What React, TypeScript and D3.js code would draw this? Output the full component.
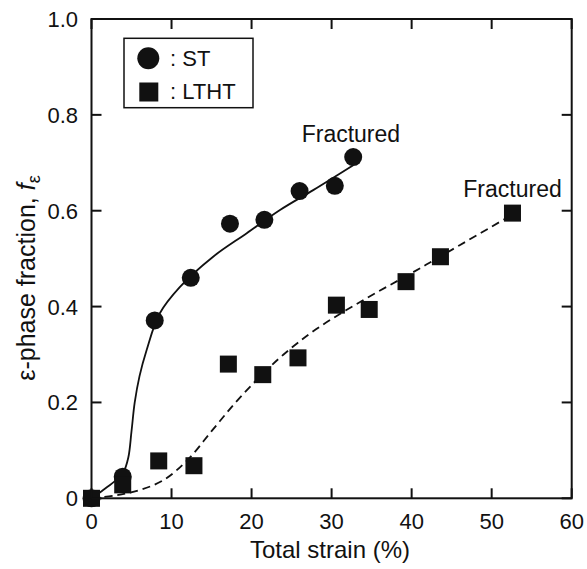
import React from "react";
import * as d3 from "d3";

const stStrain = [0, 3.9, 7.9, 12.4, 17.3, 21.6, 26.0, 30.4, 32.7];
const stFrac = [0, 0.045, 0.371, 0.46, 0.573, 0.581, 0.641, 0.652, 0.712];

const lthtStrain = [0, 3.9, 8.4, 12.8, 17.1, 21.4, 25.8, 30.6, 34.7, 39.3, 43.6, 52.6];
const lthtFrac = [0, 0.028, 0.078, 0.068, 0.28, 0.258, 0.293, 0.403, 0.394, 0.452, 0.504, 0.595];

const stFitX = [0, 1.5, 3, 4, 4.6, 5.0, 5.4, 6.0, 6.9, 8.5, 11, 15.2, 19.4, 23.6, 27.7, 32.7];
const stFitY = [0, 0.018, 0.037, 0.055, 0.085, 0.14, 0.2, 0.255, 0.31, 0.385, 0.44, 0.504, 0.553, 0.602, 0.643, 0.695];

const lthtFitX = [0, 3, 6, 9, 12, 15, 18, 21, 24, 28, 34, 40, 46, 52.6];
const lthtFitY = [0, 0.006, 0.017, 0.038, 0.08, 0.14, 0.2, 0.253, 0.3, 0.352, 0.414, 0.47, 0.528, 0.592];

const xTicks = [0, 10, 20, 30, 40, 50, 60];
const yTicks = [0, 0.2, 0.4, 0.6, 0.8, 1.0];
const yTickLabels = ["0", "0.2", "0.4", "0.6", "0.8", "1.0"];

const FONT = "'Liberation Sans', Arial, Helvetica, sans-serif";
const INK = "#111";

export default function App() {
  const W = 587, H = 569;
  const x = d3.scaleLinear().domain([0, 60]).range([91.5, 571.7]);
  const y = d3.scaleLinear().domain([0, 1]).range([498.3, 19]);
  const line = d3
    .line<[number, number]>()
    .x((d) => x(d[0]))
    .y((d) => y(d[1]))
    .curve(d3.curveCatmullRom.alpha(0.5));
  const stFit = stFitX.map((v, i) => [v, stFitY[i]] as [number, number]);
  const lthtFit = lthtFitX.map((v, i) => [v, lthtFitY[i]] as [number, number]);
  const tl = 10;
  const sq = 17;
  const r = 9;
  return (
    <svg
      width={W}
      height={H}
      style={{ position: "absolute", left: 0, top: 0, background: "#fff" }}
      fontFamily={FONT}
    >
      <rect x={0} y={0} width={W} height={H} fill="#fff" />
      <path d={line(stFit) || ""} fill="none" stroke={INK} strokeWidth={1.8} />
      <path d={line(lthtFit) || ""} fill="none" stroke={INK} strokeWidth={1.8} strokeDasharray="8,5" />
      {stStrain.map((v, i) => (
        <circle key={"c" + i} cx={x(v)} cy={y(stFrac[i])} r={r} fill={INK} />
      ))}
      {lthtStrain.map((v, i) => (
        <rect key={"s" + i} x={x(v) - sq / 2} y={y(lthtFrac[i]) - sq / 2} width={sq} height={sq} fill={INK} />
      ))}
      <rect x={x(0)} y={y(1)} width={x(60) - x(0)} height={y(0) - y(1)} fill="none" stroke={INK} strokeWidth={2} />
      {xTicks.map((t) => (
        <g key={"xt" + t}>
          <line x1={x(t)} x2={x(t)} y1={y(0)} y2={y(0) - tl} stroke={INK} strokeWidth={2} />
          <line x1={x(t)} x2={x(t)} y1={y(1)} y2={y(1) + tl} stroke={INK} strokeWidth={2} />
          <text x={x(t)} y={529} textAnchor="middle" fontSize={22} fill={INK}>
            {t}
          </text>
        </g>
      ))}
      {yTicks.map((t, i) => (
        <g key={"yt" + t}>
          <line x1={x(0)} x2={x(0) + tl} y1={y(t)} y2={y(t)} stroke={INK} strokeWidth={2} />
          <line x1={x(60)} x2={x(60) - tl} y1={y(t)} y2={y(t)} stroke={INK} strokeWidth={2} />
          <text x={78} y={y(t) + 8} textAnchor="end" fontSize={22} fill={INK}>
            {yTickLabels[i]}
          </text>
        </g>
      ))}
      <text x={330} y={558} textAnchor="middle" fontSize={24} fill={INK}>
        Total strain (%)
      </text>
      <text
        transform="translate(35,278) rotate(-90)"
        textAnchor="middle"
        fontSize={25}
        fill={INK}
      >
        ε-phase fraction,{" "}
        <tspan fontStyle="italic">f</tspan>
        <tspan fontSize={18} dy={5}>ε</tspan>
      </text>
      <text x={301.7} y={141.7} fontSize={23} fill={INK}>Fractured</text>
      <text x={463.3} y={196.7} fontSize={23} fill={INK}>Fractured</text>
      <rect x={124} y={38.3} width={129} height={69.4} fill="#fff" stroke={INK} strokeWidth={1.5} />
      <circle cx={148.3} cy={58.3} r={11} fill={INK} />
      <rect x={139.3} y={82.5} width={19} height={19} fill={INK} />
      <text x={170} y={66} fontSize={22} fill={INK}>: ST</text>
      <text x={170} y={99} fontSize={22} fill={INK}>: LTHT</text>
    </svg>
  );
}
